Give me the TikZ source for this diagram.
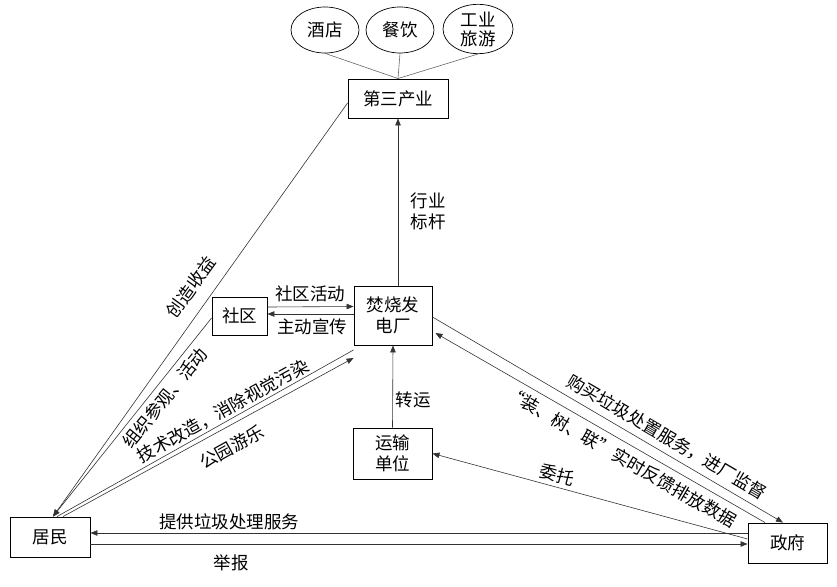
\documentclass[tikz,border=0pt]{standalone}
\usepackage{fontspec}
\setmainfont{Noto Sans CJK SC}
\usetikzlibrary{arrows.meta,shapes.geometric}

\begin{document}
\begin{tikzpicture}[x=1pt,y=-1pt,font=\fontsize{17.5}{21}\selectfont,>={Triangle[length=7pt,width=5.5pt]},
  box/.style={draw,line width=0.9pt,align=center,inner sep=0pt},
  oval/.style={draw,ellipse,line width=0.7pt,align=center,inner sep=0pt,minimum width=68pt,minimum height=46pt},
  ln/.style={line width=0.6pt,draw=black!80},
  lab/.style={inner sep=0pt,align=left}]
  \useasboundingbox (0,0) rectangle (837,586);
  \node[oval] (jd) at (325,30) {酒店};
  \node[oval] (cy) at (400,30) {餐饮};
  \node[oval,minimum width=70pt,minimum height=48pt,font=\fontsize{17.5}{19}\selectfont] (gy) at (478,29) {工业\\旅游};
  \node[box,minimum width=100pt,minimum height=39pt] (sc) at (398,98.5) {第三产业};
  \node[box,minimum width=78pt,minimum height=59pt] (fs) at (393,315.5) {焚烧发\\电厂};
  \node[box,minimum width=55pt,minimum height=38pt] (sq) at (239.5,316) {社区};
  \node[box,minimum width=79pt,minimum height=51pt] (ys) at (392.5,453.5) {运输\\单位};
  \node[box,minimum width=80pt,minimum height=40pt] (jm) at (50,537) {居民};
  \node[box,minimum width=79pt,minimum height=40pt] (zf) at (787.5,543) {政府};
  \foreach \e in {jd,cy,gy} \draw[ln,draw=black!60] (\e.south)--(sc.north);
  \draw[ln,->] (sc.south |- fs.north)--(sc.south);
  \draw[ln,->] (ys.north)--(fs.south);
  \draw[ln,->] ([yshift=9pt]sq.east)--([yshift=9pt]fs.west);
  \draw[ln,->] ([yshift=1.5pt]fs.west)--([yshift=2pt]sq.east);
  \draw[ln,->] ([yshift=-4.5pt]sc.west)--([xshift=3pt]jm.north);
  \draw[ln,->] ([yshift=-2pt]sq.west)--([xshift=3pt]jm.north);
  \draw[ln] ([xshift=7pt]jm.north)--([yshift=-4.5pt]fs.south west);
  \draw[ln,->] ([xshift=13pt]jm.north)--([yshift=-12.5pt]fs.south west);
  \draw[ln,->] ([yshift=-1.5pt]fs.east)--([xshift=-4.5pt]zf.north);
  \draw[ln,->] ([xshift=-22.5pt]zf.north)--([xshift=3pt,yshift=-17.5pt]fs.east);
  \draw[ln,->] ([yshift=4pt]zf.west)--(ys.east);
  \draw[ln,->] ([yshift=10pt]zf.west)--([yshift=4pt]jm.east);
  \draw[ln,->] ([yshift=-7pt]jm.east)--([yshift=-1pt]zf.west);
  \node[lab] (hy) at (428,211) {行业\\标杆};
  \node[lab] (zy) at (413,400) {转运};
  \node[lab] (sqhd) at (310,294) {社区活动};
  \node[lab] (zdxc) at (312,327) {主动宣传};
  \node[lab,rotate=54] (czsy) at (191,287) {创造收益};
  \node[lab,rotate=51] (zzcg) at (165,398) {组织参观、活动};
  \node[lab,rotate=29] (jsgz) at (223,411) {技术改造，消除视觉污染};
  \node[lab,rotate=29] (gyyl) at (232,447) {公园游乐};
  \node[lab,rotate=-30.4] (gmlj) at (667,437) {购买垃圾处置服务，进厂监督};
  \node[lab,rotate=-30] (zsl) at (621,457) {“装、树、联”实时反馈排放数据};
  \node[lab,rotate=-15] (wt) at (557,475) {委托};
  \node[lab] (tgfw) at (229,522) {提供垃圾处理服务};
  \node[lab] (jb) at (231,563) {举报};
\end{tikzpicture}
\end{document}
